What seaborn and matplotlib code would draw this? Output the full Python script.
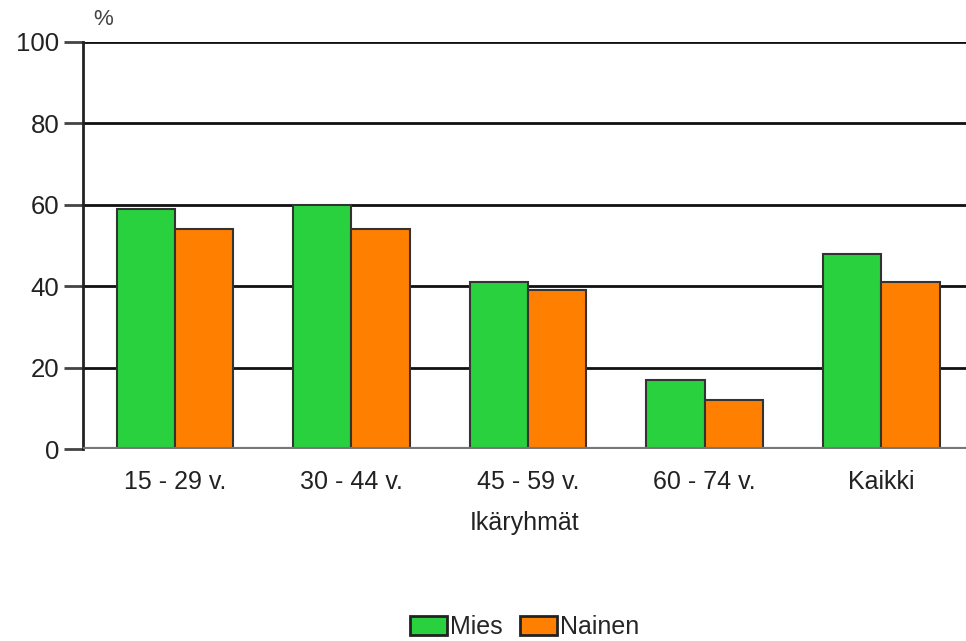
import matplotlib
matplotlib.use("Agg")
import matplotlib.pyplot as plt
import seaborn as sns
import pandas as pd

groups = ["15 - 29 v.", "30 - 44 v.", "45 - 59 v.", "60 - 74 v.", "Kaikki"]
mies = [59, 60, 41, 17, 48]
nainen = [54, 54, 39, 12, 41]
series = ["Mies", "Nainen"]
colors = ["#2AD13F", "#FF8000"]

df = pd.DataFrame({
    "group": groups * 2,
    "value": mies + nainen,
    "sex": [series[0]] * len(groups) + [series[1]] * len(groups),
})

sns.set_style("white")
plt.rcParams["font.family"] = ["Liberation Sans", "DejaVu Sans"]

fig = plt.figure(figsize=(9.66, 6.41), dpi=100)
ax = fig.add_axes([0.086, 0.2995, 0.914, 0.635])

sns.barplot(data=df, x="group", y="value", hue="sex", order=groups,
            hue_order=series, palette=colors, width=0.66, ax=ax,
            edgecolor="#333333", linewidth=1.5, saturation=1, zorder=3)

ax.set_ylim(0, 100)
ax.set_yticks([0, 20, 40, 60, 80, 100])
ax.set_xlim(-0.52, 4.48)
for y in [20, 40, 60, 80, 100]:
    ax.axhline(y, color="#111111", lw=2, zorder=1)
ax.axhline(0, color="#777777", lw=3, zorder=4)

for s in ["top", "right", "bottom"]:
    ax.spines[s].set_visible(False)
ax.spines["left"].set_color("#222222")
ax.spines["left"].set_linewidth(2)

ax.tick_params(axis="y", length=14, width=2, color="#444444", labelsize=18.5,
               pad=3, left=True, labelcolor="#222222")
ax.tick_params(axis="x", length=0, labelsize=18, pad=15, labelcolor="#222222")
ax.set_xlabel("Ikäryhmät", fontsize=18, labelpad=12, color="#222222")
ax.set_ylabel("")
ax.text(0.011, 1.03, "%", transform=ax.transAxes, fontsize=16, color="#444444",
        ha="left", va="bottom")

leg = ax.legend(loc="center", bbox_to_anchor=(0.5, -0.437), ncol=2,
                frameon=False, fontsize=18, handlelength=1.5, handleheight=0.8,
                handletextpad=0.1, columnspacing=0.7)
for h in leg.legend_handles:
    h.set_edgecolor("#222222")
    h.set_linewidth(2)

fig.savefig("out.png", dpi=100)
